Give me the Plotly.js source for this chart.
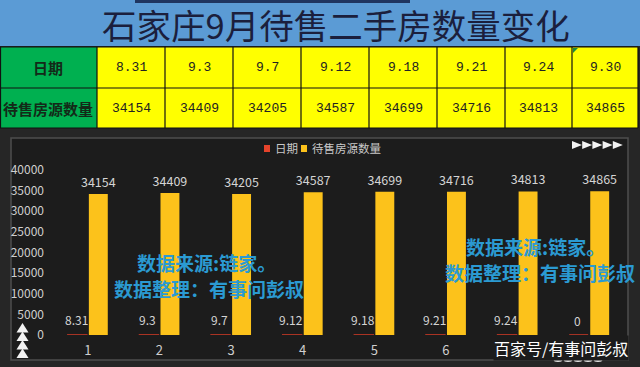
<!DOCTYPE html>
<html>
<head>
<meta charset="utf-8">
<script src="https://cdn.plot.ly/plotly-3.0.1.min.js"></script>
<style>html,body{margin:0;padding:0;background:#262626;}#chart{width:640px;height:367px;}</style>
</head>
<body>
<div id="chart"></div>
<script>
// ---- data ----
const titleText = '石家庄9月待售二手房数量变化';
const tableDates = ['8.31', '9.3', '9.7', '9.12', '9.18', '9.21', '9.24', '9.30'];
const tableCounts = [34154, 34409, 34205, 34587, 34699, 34716, 34813, 34865];
const rowLabels = ['日期', '待售房源数量'];
const categories = ['1', '2', '3', '4', '5', '6', '7', '8'];
const dateSeries = [8.31, 9.3, 9.7, 9.12, 9.18, 9.21, 9.24, 0];
const countSeries = [34154, 34409, 34205, 34587, 34699, 34716, 34813, 34865];
const seriesNames = ['日期', '待售房源数量'];
const yTicks = [0, 5000, 10000, 15000, 20000, 25000, 30000, 35000, 40000];
const sourceNotes = ['数据来源:链家。', '数据整理：有事问彭叔'];
const brandText = '百家号/有事问彭叔';

// ---- helpers (pixel -> paper, paper = plot area) ----
const W = 640, H = 367;
const M = {l: 52, r: 15, t: 170, b: 32};
const PW = W - M.l - M.r, PH = H - M.t - M.b;
const px = x => (x - M.l) / PW;
const py = y => (H - M.b - y) / PH;
const F = '"Noto Sans CJK SC", "Noto Sans", sans-serif';
const RED = '#e5432b', YEL = '#fcc21b';

const shapes = [];
const annotations = [];
function rect(x0, y0, x1, y1, fill, line, lw, layer) {
  shapes.push({type: 'rect', xref: 'paper', yref: 'paper', x0: px(x0), x1: px(x1), y0: py(y1), y1: py(y0),
    fillcolor: fill, line: {color: line || 'rgba(0,0,0,0)', width: lw || 0}, layer: layer || 'below'});
}
function line(x0, y0, x1, y1, color, w, layer) {
  shapes.push({type: 'line', xref: 'paper', yref: 'paper', x0: px(x0), x1: px(x1), y0: py(y0), y1: py(y1),
    line: {color: color, width: w}, layer: layer || 'below'});
}
function path(pts, fill, layer) {
  const d = pts.map((p, i) => (i ? 'L' : 'M') + px(p[0]).toFixed(5) + ',' + py(p[1]).toFixed(5)).join(' ') + ' Z';
  shapes.push({type: 'path', xref: 'paper', yref: 'paper', path: d, fillcolor: fill, line: {width: 0}, layer: layer || 'above'});
}
function note(x, y, text, size, color, opts) {
  annotations.push(Object.assign({xref: 'paper', yref: 'paper', x: px(x), y: py(y), text: text, showarrow: false,
    xanchor: 'center', yanchor: 'middle', font: {family: F, size: size, color: color}}, opts || {}));
}

// ---- background of the chart panel ----
rect(0, 129, 640, 367, '#262626');
rect(11, 138, 628, 360, '#1c1c1c', '#4e4e4e', 1.5);

// ---- title banner ----
rect(0, 0, 640, 46, '#5b9bd5');
rect(135, 0, 410, 3, '#1f3560');
note(336, 24, titleText, 34.5, '#1b1f3d');

// ---- table ----
const colEdges = [97, 165, 233, 301, 369, 437, 505, 572, 638];
const rowTop = 47, rowMid = 88, rowBot = 128;
rect(0, rowTop, 97, rowBot, '#00b050');
rect(97, rowTop, 638, rowBot, '#ffff00');
[rowTop, rowMid, rowBot].forEach(y => line(0, y, 638, y, '#111', 1.2));
line(0.5, rowTop, 0.5, rowBot, '#111', 1.2);
colEdges.forEach(x => line(x, rowTop, x, rowBot, '#111', 1.2));
path([[573, 48], [578, 48], [573, 53]], '#1a8a3a');
note(48, 67.5, '<b>' + rowLabels[0] + '</b>', 15, '#132a18');
note(48, 108, '<b>' + rowLabels[1] + '</b>', 15, '#132a18');
const MONO = '"Liberation Mono", monospace';
tableDates.forEach((d, i) => {
  const cx = (colEdges[i] + colEdges[i + 1]) / 2;
  note(cx, 67.5, d, 13, '#222', {font: {family: MONO, size: 13, color: '#222'}});
  note(cx, 108, String(tableCounts[i]), 13, '#222', {font: {family: MONO, size: 13, color: '#222'}});
});

// ---- legend (drawn as text with colour keys) ----
rect(264, 145, 270, 152, RED, null, 0, 'above');
rect(301, 145, 307, 152, YEL, null, 0, 'above');
note(273, 148, seriesNames[0], 11.5, '#c8c8c8', {xanchor: 'left'});
note(310, 148, seriesNames[1], 11.5, '#c8c8c8', {xanchor: 'left'});

// ---- decorations ----
for (let i = 0; i < 5; i++) {
  const x0 = 572 + i * 10.2;
  path([[x0, 141], [x0 + 10, 145], [x0, 149]], '#f2f2f2');
}
for (let i = 0; i < 4; i++) {
  const t = 323 + i * 8.5;
  path([[16.5, t + 9.5], [22.5, t], [28.5, t + 9.5]], '#f2f2f2');
}

// ---- labels of the 日期 series (through the axes' scales; x = category index) ----
dateSeries.forEach((v, i) => {
  annotations.push({xref: 'x', yref: 'y', x: i, y: v, xshift: -11.5, yshift: 15,
    text: String(v), showarrow: false, xanchor: 'center', yanchor: 'middle',
    font: {family: F, size: 12, color: '#d4d4d4'}});
});

// ---- watermarks ----
const WM = '#2b9ad2';
note(206, 262, '<b>' + sourceNotes[0] + '</b>', 19, WM);
note(209, 288, '<b>' + sourceNotes[1] + '</b>', 19, WM);
note(535, 246, '<b>' + sourceNotes[0] + '</b>', 19, WM);
note(540, 272, '<b>' + sourceNotes[1] + '</b>', 19, WM);
note(561, 348, brandText, 16, '#ffffff', {bgcolor: '#1c1c1c', borderpad: 0});
for (let i = 0; i < 5; i++) {
  const cx = 558 + i * 10;
  shapes.push({type: 'circle', xref: 'paper', yref: 'paper', x0: px(cx - 4.5), x1: px(cx + 4.5), y0: py(362), y1: py(357),
    fillcolor: '#e6e6e6', line: {width: 0}, layer: 'above'});
}

// ---- bars ----
const traces = [
  {type: 'bar', name: seriesNames[0], x: categories, y: dateSeries,
   marker: {color: RED, line: {color: '#cf3a27', width: 1.5}}, hoverinfo: 'none'},
  {type: 'bar', name: seriesNames[1], x: categories, y: countSeries,
   marker: {color: YEL, line: {width: 0}},
   text: countSeries.map(String), textposition: 'outside', cliponaxis: false, constraintext: 'none',
   textfont: {family: F, size: 12.5, color: '#d4d4d4'}, hoverinfo: 'none'}
];

const layout = {
  width: W, height: H,
  margin: {l: M.l, r: M.r, t: M.t, b: M.b, pad: 0},
  paper_bgcolor: '#262626', plot_bgcolor: 'rgba(0,0,0,0)',
  showlegend: false,
  barmode: 'group', bargap: 0.413, bargroupgap: 0.1,
  font: {family: F, color: '#d0d0d0'},
  xaxis: {type: 'category', range: [-0.5, categories.length - 0.5], showgrid: false, zeroline: false, showline: false, ticks: '',
    tickfont: {family: F, size: 13, color: '#cfcfcf'}, ticklabelstandoff: 6, fixedrange: true},
  yaxis: {range: [0, 40000], tickvals: yTicks, ticktext: yTicks.map(String), showgrid: false, zeroline: false,
    showline: false, ticks: '', tickfont: {family: F, size: 12, color: '#cfcfcf'}, ticklabelstandoff: 7, fixedrange: true},
  shapes: shapes,
  annotations: annotations
};

Plotly.newPlot('chart', traces, layout, {displayModeBar: false, staticPlot: true});
</script>
</body>
</html>
